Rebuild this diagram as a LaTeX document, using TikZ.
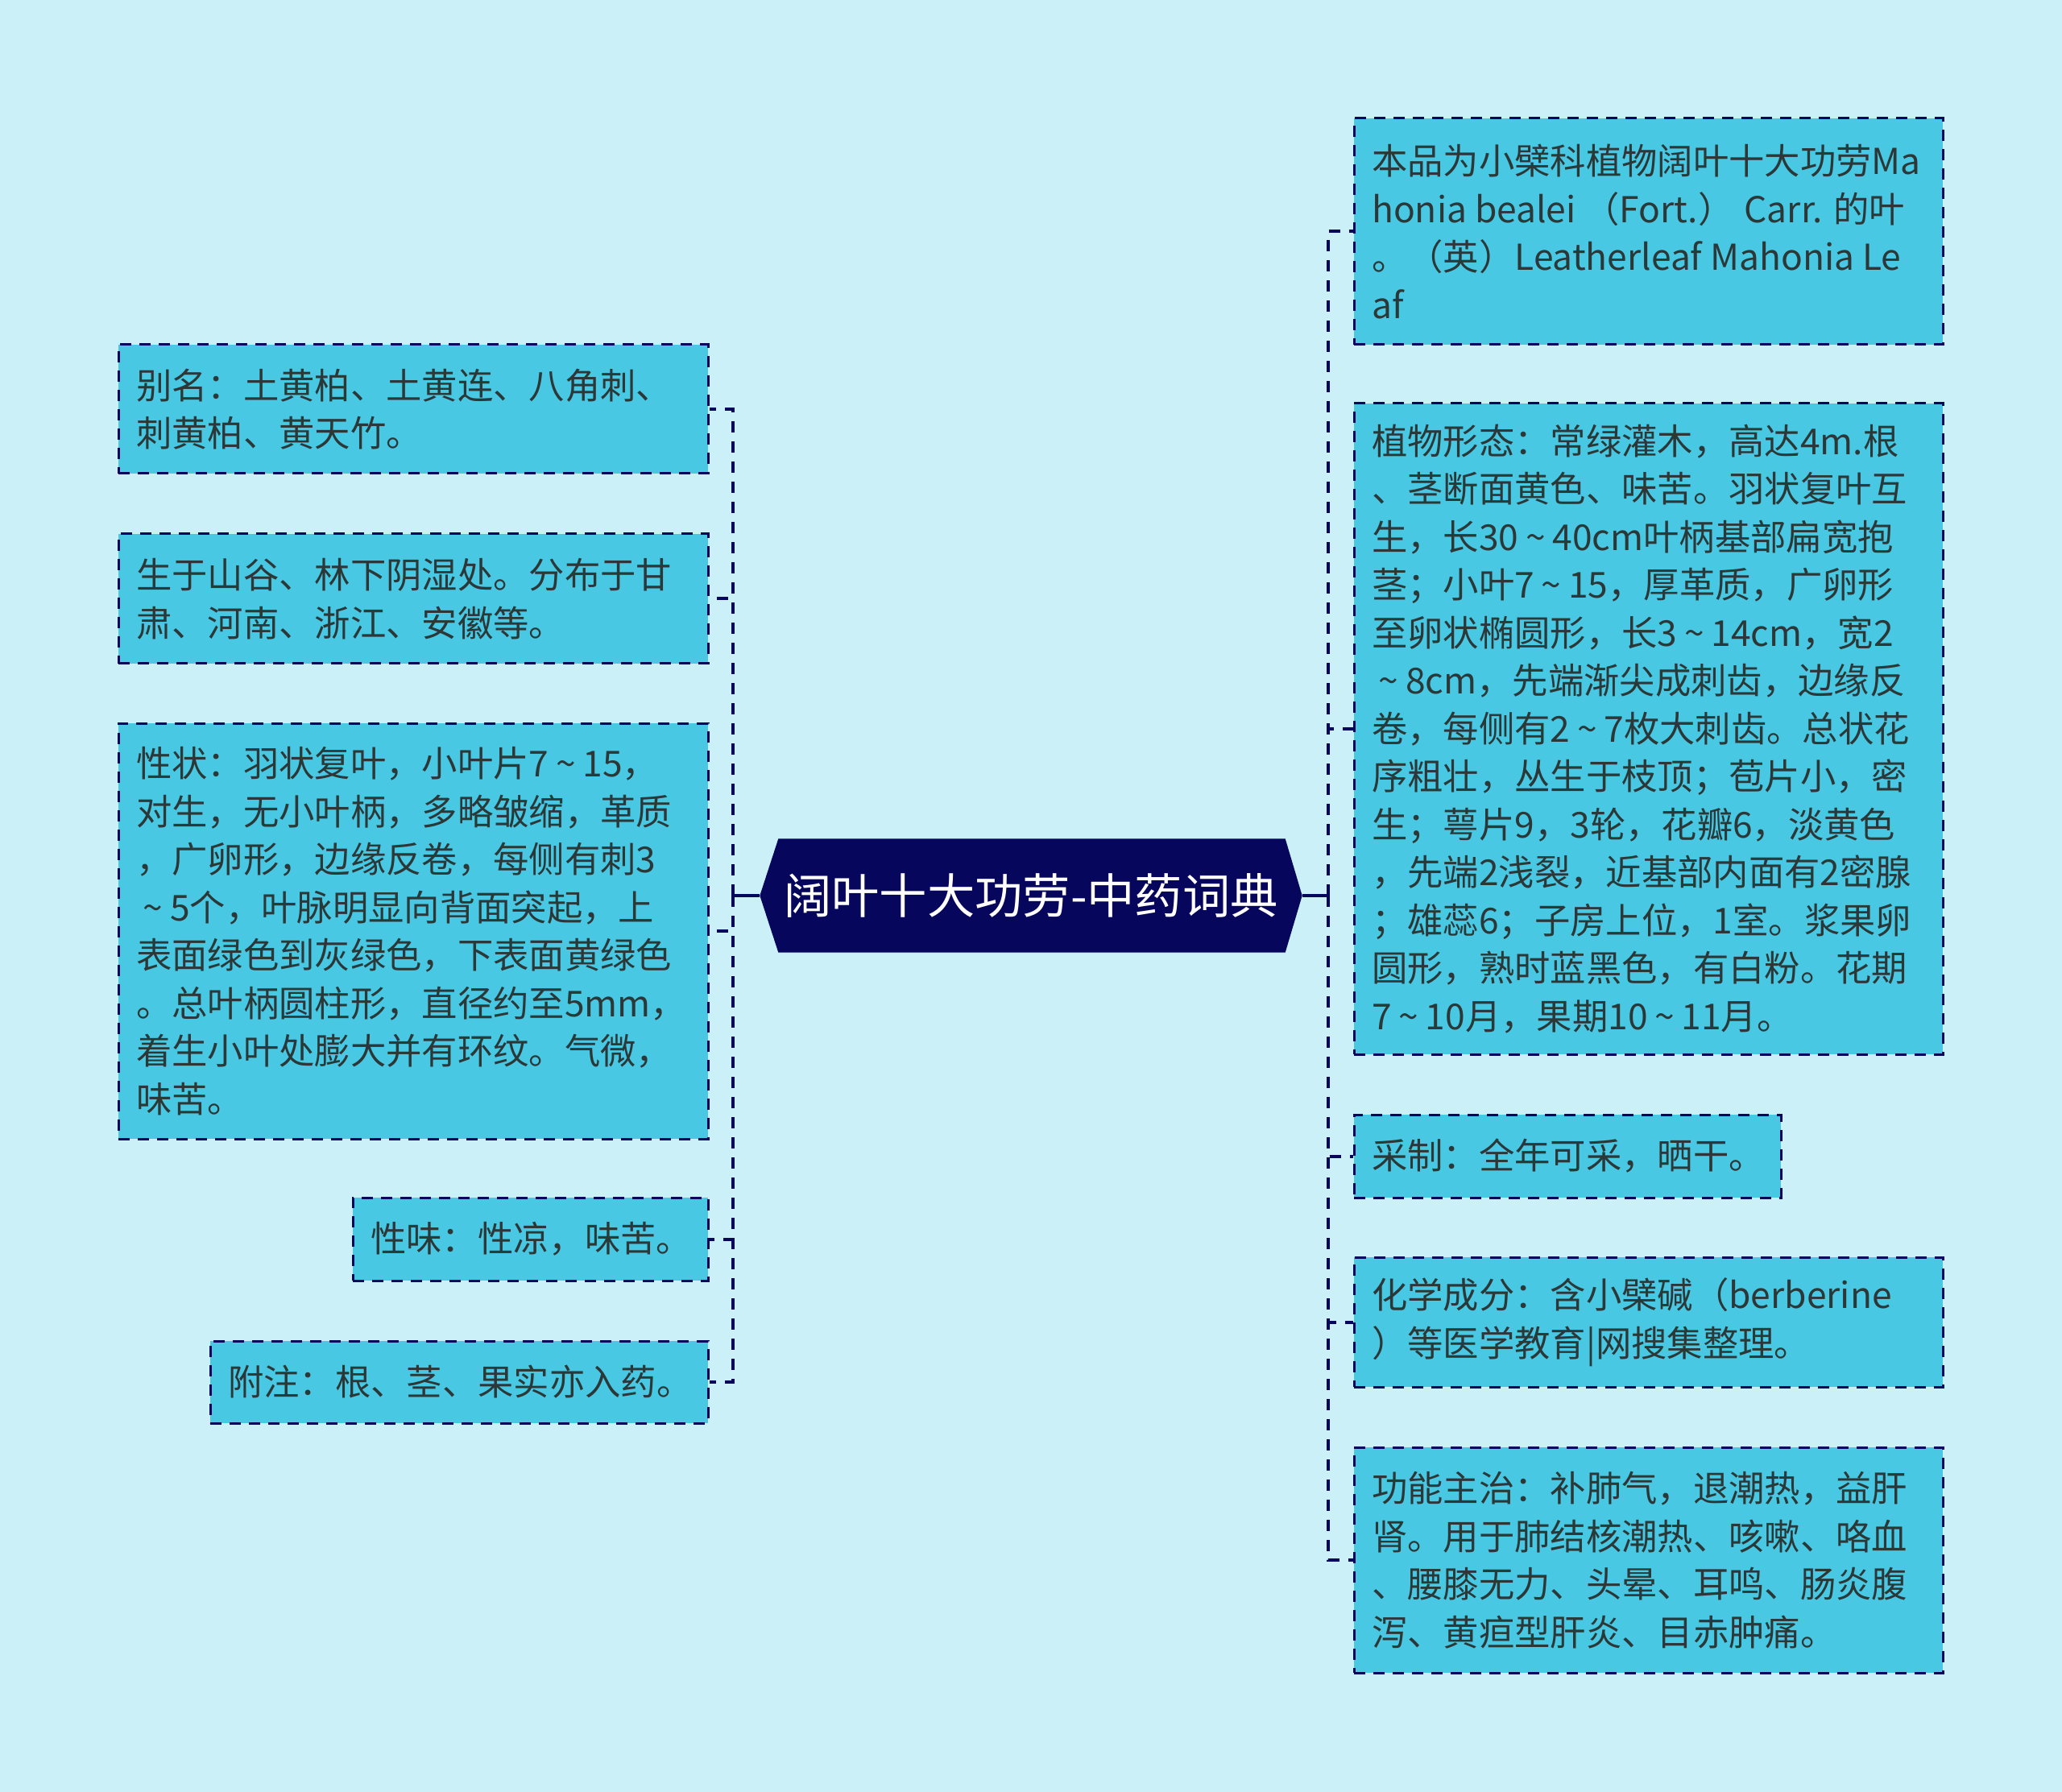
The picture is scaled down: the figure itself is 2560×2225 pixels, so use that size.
\documentclass[tikz,border=0pt]{standalone}
\usepackage{fontspec}
\setmainfont{Noto Sans CJK SC}
\usetikzlibrary{backgrounds}
\definecolor{pagebg}{HTML}{CBF0F7}
\definecolor{boxfill}{HTML}{48C8E3}
\definecolor{lineblue}{HTML}{06065A}
\definecolor{titlefill}{HTML}{06065C}
\definecolor{txtcol}{HTML}{2C3838}
\newcommand\tld{\makebox[0.95em]{\textasciitilde}}
\tikzset{
  box/.style={rectangle, draw=lineblue, fill=boxfill, line width=0.9pt, dash pattern=on 4.2pt off 3pt, inner sep=0pt},
  txt/.style={align=left, inner sep=0pt, text=txtcol, font=\fontsize{13.3pt}{17.85pt}\selectfont, anchor=west},
  conn/.style={draw=lineblue, line width=1.2pt, dash pattern=on 4.2pt off 3.3pt},
  solidconn/.style={draw=lineblue, line width=1.2pt},
  titlebox/.style={rectangle, inner sep=0pt, text=white, font=\fontsize{17.8pt}{20pt}\selectfont}
}
\begin{document}
\begin{tikzpicture}[x=0.3pt,y=-0.3pt]
\begin{scope}[on background layer]
\fill[pagebg] (0,0) rectangle (2560,2225);
\end{scope}
\useasboundingbox (0,0) rectangle (2560,2225);

% central node
\node[titlebox, minimum width=201.6pt, minimum height=42pt] (title) at (1280,1112) {阔叶十大功劳-中药词典};
\begin{scope}[on background layer]
\fill[titlefill] (title.west) -- ([xshift=6.9pt]title.north west) -- ([xshift=-6.3pt]title.north east) -- (title.east) -- ([xshift=-6.3pt]title.south east) -- ([xshift=6.9pt]title.south west) -- cycle;
\end{scope}

% left boxes
\node[box, minimum width=219.6pt, minimum height=48pt] (L1) at (513,508) {};
\node[txt] (L1t) at ([xshift=6.9pt]L1.west) {别名：土黄柏、土黄连、八角刺、\\刺黄柏、黄天竹。};
\node[box, minimum width=219.6pt, minimum height=48.3pt] (L2) at (513,743.5) {};
\node[txt] (L2t) at ([xshift=6.9pt]L2.west) {生于山谷、林下阴湿处。分布于甘\\肃、河南、浙江、安徽等。};
\node[box, minimum width=219.6pt, minimum height=154.8pt] (L3) at (513,1156) {};
\node[txt] (L3t) at ([xshift=6.9pt]L3.west) {性状：羽状复叶，小叶片7\tld 15，\\对生，无小叶柄，多略皱缩，革质\\，广卵形，边缘反卷，每侧有刺3\\\tld 5个，叶脉明显向背面突起，上\\表面绿色到灰绿色，下表面黄绿色\\。总叶柄圆柱形，直径约至5mm，\\着生小叶处膨大并有环纹。气微，\\味苦。};
\node[box, minimum width=132.3pt, minimum height=30.9pt] (L4) at (658.5,1538.5) {};
\node[txt] (L4t) at ([xshift=6.9pt]L4.west) {性味：性凉，味苦。};
\node[box, minimum width=185.4pt, minimum height=30.6pt] (L5) at (570,1716) {};
\node[txt] (L5t) at ([xshift=6.9pt]L5.west) {附注：根、茎、果实亦入药。};

% right boxes
\node[box, minimum width=219.3pt, minimum height=84.3pt] (R1) at (2046.5,287.5) {};
\node[txt] (R1t) at ([xshift=6.9pt]R1.west) {本品为小檗科植物阔叶十大功劳Ma\\honia bealei （Fort.） Carr. 的叶\\。（英）Leatherleaf Mahonia Le\\af};
\node[box, minimum width=219.3pt, minimum height=242.4pt] (R2) at (2046.5,905) {};
\node[txt] (R2t) at ([xshift=6.9pt]R2.west) {植物形态：常绿灌木，高达4m.根\\、茎断面黄色、味苦。羽状复叶互\\生，长30\tld 40cm叶柄基部扁宽抱\\茎；小叶7\tld 15，厚革质，广卵形\\至卵状椭圆形，长3\tld 14cm，宽2\\\tld 8cm，先端渐尖成刺齿，边缘反\\卷，每侧有2\tld 7枚大刺齿。总状花\\序粗壮，丛生于枝顶；苞片小，密\\生；萼片9，3轮，花瓣6，淡黄色\\，先端2浅裂，近基部内面有2密腺\\；雄蕊6；子房上位，1室。浆果卵\\圆形，熟时蓝黑色，有白粉。花期\\7\tld 10月，果期10\tld 11月。};
\node[box, minimum width=159pt, minimum height=30.9pt] (R3) at (1946,1435.5) {};
\node[txt] (R3t) at ([xshift=6.9pt]R3.west) {采制：全年可采，晒干。};
\node[box, minimum width=219.3pt, minimum height=48.3pt] (R4) at (2046.5,1641.5) {};
\node[txt] (R4t) at ([xshift=6.9pt]R4.west) {化学成分：含小檗碱（berberine\\）等医学教育|网搜集整理。};
\node[box, minimum width=219.3pt, minimum height=84pt] (R5) at (2046.5,1937) {};
\node[txt] (R5t) at ([xshift=6.9pt]R5.west) {功能主治：补肺气，退潮热，益肝\\肾。用于肺结核潮热、咳嗽、咯血\\、腰膝无力、头晕、耳鸣、肠炎腹\\泻、黄疸型肝炎、目赤肿痛。};

% connectors
\coordinate (tl) at (910,1112);
\coordinate (tr) at (1649,1112);
\draw[solidconn] (title.west) -- (tl);
\draw[solidconn] (title.east) -- (tr);
\foreach \n in {L1,L2,L3,L4,L5} \draw[conn] (tl) |- (\n.east);
\foreach \n in {R1,R2,R3,R4,R5} \draw[conn] (tr) |- (\n.west);
\end{tikzpicture}
\end{document}
